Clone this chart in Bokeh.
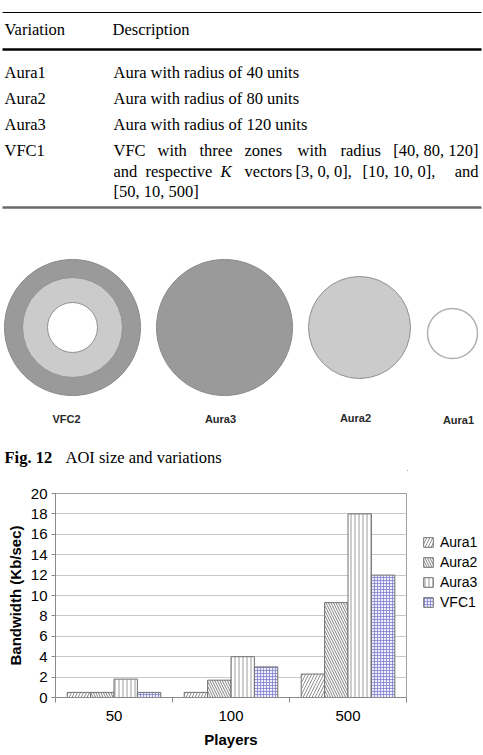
from bokeh.plotting import figure
from bokeh.layouts import column, row
from bokeh.models import Range1d, FixedTicker, Legend, LegendItem, ColumnDataSource
from bokeh.core.properties import value
from bokeh.embed import file_html
from bokeh.resources import INLINE

# ---------------- data ----------------
table_header = ["Variation", "Description"]
variations = ["Aura1", "Aura2", "Aura3", "VFC1"]
descriptions = ["Aura with radius of 40 units",
                "Aura with radius of 80 units",
                "Aura with radius of 120 units"]
vfc1_line1 = ["VFC", "with", "three", "zones", "with", "radius", "[40, 80, 120]"]
vfc1_line2 = ["and", "respective", "K", "vectors", "[3, 0, 0],", "[10, 10, 0],", "and"]
vfc1_line3 = ["[50, 10, 500]"]

circle_names = ["VFC2", "Aura3", "Aura2", "Aura1"]
caption_bold = "Fig. 12"
caption_text = "AOI size and variations"

categories = ["50", "100", "500"]
series_names = ["Aura1", "Aura2", "Aura3", "VFC1"]
aura1 = [0.5, 0.5, 2.3]
aura2 = [0.5, 1.7, 9.3]
aura3 = [1.8, 4.0, 18.0]
vfc1 = [0.5, 3.0, 12.0]
series_values = [aura1, aura2, aura3, vfc1]
y_ticks = list(range(0, 21, 2))

# ---------------- top figure: table, AOI diagram, caption ----------------
W, H1 = 483, 470
top = figure(width=W, height=H1, x_range=Range1d(0, W), y_range=Range1d(H1, 0),
             x_axis_type=None, y_axis_type=None, toolbar_location=None,
             output_backend="svg", min_border=0, outline_line_color=None)
top.frame_align = False
top.background_fill_color = "white"
top.border_fill_color = "white"

serif = value("Liberation Serif")
fs = "16.5px"

def tx(fig, xs, ys, texts, **kw):
    opts = dict(text_font=serif, text_font_size=fs, text_baseline="middle", text_color="black")
    opts.update(kw)
    fig.text(x=xs, y=ys, text=texts, **opts)

# rules
top.segment(x0=[2], y0=[12], x1=[481], y1=[12], line_color="black", line_width=1.2)
top.segment(x0=[2], y0=[49], x1=[481], y1=[49], line_color="black", line_width=2.5)
top.segment(x0=[2], y0=[207], x1=[481], y1=[207], line_color="#6a6a6a", line_width=2.5)

# header and rows
tx(top, [4, 112], [29, 29], table_header)
row_y = [72, 98, 124, 150]
tx(top, [4] * 4, row_y, variations)
tx(top, [113] * 3, row_y[:3], descriptions)
# justified VFC1 description
tx(top, [113, 157, 199, 244, 297, 340], [150] * 6, vfc1_line1[:6])
tx(top, [478], [150], vfc1_line1[6:], text_align="right")
l2t = [vfc1_line2[0], vfc1_line2[1], vfc1_line2[3], vfc1_line2[4], vfc1_line2[5]]
tx(top, [113, 145, 244, 295, 362], [171] * 5, l2t)
tx(top, [220], [171], [vfc1_line2[2]], text_font_style="italic")
tx(top, [478], [171], [vfc1_line2[6]], text_align="right")
tx(top, [113], [191], vfc1_line3)

# AOI circles
dark, light = "#9a9a9a", "#cbcbcb"
top.circle(x=[72, 224], y=[327, 327], radius=[68, 68], fill_color=dark,
           line_color="#8a8a8a", line_width=1)
top.circle(x=[72, 359], y=[327, 327], radius=[50, 51], fill_color=light,
           line_color="#909090", line_width=1)
top.circle(x=[72], y=[327], radius=[25], fill_color="white",
           line_color="#909090", line_width=1)
top.circle(x=[452], y=[333], radius=[25], fill_color="white",
           line_color="#b0b0b0", line_width=1.5)
top.text(x=[66, 220, 355, 458], y=[418, 418, 417, 419], text=circle_names,
         text_font=value("Liberation Sans"), text_font_style="bold",
         text_font_size="11px", text_align="center", text_baseline="middle",
         text_color="#2a2a2a")

# caption
tx(top, [4], [457], [caption_bold], text_font_style="bold")
tx(top, [65], [457], [caption_text])

# ---------------- bar chart ----------------
H2 = 755 - H1
CW = 407
p = figure(width=CW, height=H2, x_range=Range1d(0, len(categories)), y_range=Range1d(0, 20),
           toolbar_location=None, output_backend="svg",
           min_border_left=55, min_border_right=1, min_border_top=23, min_border_bottom=58)
p.frame_align = False
p.background_fill_color = "white"
p.border_fill_color = "white"
p.outline_line_color = "#a0a0a0"
p.xgrid.visible = False
p.ygrid.grid_line_color = "#c8c8c8"
p.ygrid.ticker = FixedTicker(ticks=y_ticks)

sans = "Liberation Sans"
# x axis
p.xaxis.ticker = FixedTicker(ticks=[i + 0.5 for i in range(len(categories))],
                             minor_ticks=list(range(len(categories) + 1)))
p.xaxis.major_label_overrides = {i + 0.5: c for i, c in enumerate(categories)}
p.xaxis.major_tick_line_color = None
p.xaxis.major_tick_out = 0
p.xaxis.major_tick_in = 0
p.xaxis.minor_tick_line_color = "#8a8a8a"
p.xaxis.minor_tick_out = 5
p.xaxis.minor_tick_in = 0
p.xaxis.axis_line_color = "#8a8a8a"
p.xaxis.major_label_standoff = 8
p.xaxis.major_label_text_font = sans
p.xaxis.major_label_text_font_size = "15px"
p.xaxis.major_label_text_color = "black"
p.xaxis.axis_label = "Players"
p.xaxis.axis_label_text_font = sans
p.xaxis.axis_label_text_font_style = "bold"
p.xaxis.axis_label_text_font_size = "15px"
p.xaxis.axis_label_text_color = "black"
p.xaxis.axis_label_standoff = 7

# y axis
p.yaxis.ticker = FixedTicker(ticks=y_ticks)
p.yaxis.minor_tick_line_color = None
p.yaxis.major_tick_out = 4
p.yaxis.major_tick_in = 0
p.yaxis.major_tick_line_color = "#8a8a8a"
p.yaxis.axis_line_color = "#8a8a8a"
p.yaxis.major_label_standoff = 4
p.yaxis.major_label_text_font = sans
p.yaxis.major_label_text_font_size = "15px"
p.yaxis.major_label_text_color = "black"
p.yaxis.axis_label = "Bandwidth (Kb/sec)"
p.yaxis.axis_label_text_font = sans
p.yaxis.axis_label_text_font_style = "bold"
p.yaxis.axis_label_text_font_size = "15px"
p.yaxis.axis_label_text_color = "black"
p.yaxis.axis_label_standoff = 4

styles = [
    dict(hatch_pattern="right_diagonal_line", hatch_color="#808080", hatch_scale=6, hatch_weight=0.9, fill_color="white"),
    dict(hatch_pattern="left_diagonal_line", hatch_color="#707070", hatch_scale=5, hatch_weight=0.9, fill_color="white"),
    dict(hatch_pattern="vertical_line", hatch_color="#909090", hatch_scale=4, hatch_weight=0.9, fill_color="white"),
    dict(hatch_pattern="cross", hatch_color="#8080cc", hatch_scale=3, hatch_weight=0.8, fill_color="#eeeeff"),
]
bar_w = 0.2
for k, (name, vals) in enumerate(zip(series_names, series_values)):
    xs = [i + 0.2 + bar_w * k for i in range(len(categories))]
    src = ColumnDataSource(dict(x=xs, top=vals))
    p.vbar(x="x", top="top", width=bar_w, bottom=0, source=src,
           line_color="#707070", line_width=1, **styles[k])

# ---------------- legend panel ----------------
LW = W - CW
leg = figure(width=LW, height=H2, x_range=Range1d(0, LW), y_range=Range1d(H2, 0),
             x_axis_type=None, y_axis_type=None, toolbar_location=None,
             output_backend="svg", min_border=0, outline_line_color=None)
leg.frame_align = False
leg.background_fill_color = "white"
leg.border_fill_color = "white"
items = []
for k, name in enumerate(series_names):
    # off-screen proxy renderer, only used to draw the legend swatch
    r = leg.vbar(x=[-1000], top=[-1000], width=1, bottom=-1001,
                 line_color="#707070", line_width=1, **styles[k])
    items.append(LegendItem(label=name, renderers=[r]))
legend = Legend(items=items, location=(15, 143), glyph_width=12, glyph_height=12,
                label_standoff=6, spacing=0, label_height=20, padding=0, margin=0,
                border_line_color=None, background_fill_alpha=0,
                label_text_font=sans, label_text_font_size="14px", label_text_color="black")
leg.add_layout(legend)

layout = column(top, row(p, leg, spacing=0), spacing=0)
open("out.html", "w").write(file_html(layout, INLINE))
